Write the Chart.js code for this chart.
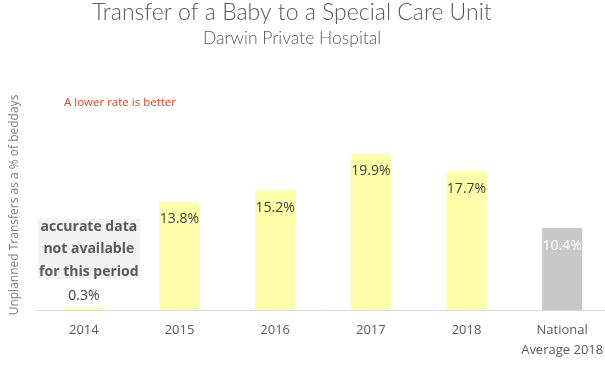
<!DOCTYPE html>
<html>
<head>
<meta charset="utf-8">
<script src="https://cdn.jsdelivr.net/npm/chart.js@4"></script>
<style>
    html, body { margin: 0; padding: 0; background: #fff; overflow: hidden; }
    #wrap { width: 605px; height: 365px; position: relative; overflow: hidden; }
</style>
</head>
<body>
<div id="wrap"><canvas id="chart" width="640" height="372"></canvas></div>
<script>
// chart data
const categories = ['2014', '2015', '2016', '2017', '2018', ['National', 'Average 2018']];
const rates = [0.3, 13.8, 15.2, 19.9, 17.7, 10.4];
const rateLabels = ['0.3%', '13.8%', '15.2%', '19.9%', '17.7%', '10.4%'];
const barColors = ['#ffffaa', '#ffffaa', '#ffffaa', '#ffffaa', '#ffffaa', '#c8c8c8'];
const labelColors = ['#404040', '#404040', '#404040', '#404040', '#404040', '#ffffff'];
const noteLines = ['accurate data', 'not available', 'for this period'];

const titleText = 'Transfer of a Baby to a Special Care Unit';
const subtitleText = 'Darwin Private Hospital';
const yTitle = 'Unplanned Transfers as a % of beddays';
const hintText = 'A lower rate is better';

// titles, hint, y title, value labels and the 2014 note
const extras = {
    id: 'extras',
    afterDatasetsDraw(chart) {
        const ctx = chart.ctx;
        const meta = chart.getDatasetMeta(0);
        ctx.save();
        ctx.textAlign = 'center';
        ctx.textBaseline = 'middle';

        ctx.fillStyle = '#595959';
        ctx.font = '300 23px Lato, "DejaVu Sans", sans-serif';
        ctx.fillText(titleText, 292, 13);
        ctx.font = '300 17.5px Lato, "DejaVu Sans", sans-serif';
        ctx.fillText(subtitleText, 292, 38);

        ctx.fillStyle = '#e2421b';
        ctx.textAlign = 'left';
        ctx.font = '11.5px "Open Sans", sans-serif';
        ctx.fillText(hintText, 64, 103);

        // rotated y title
        ctx.save();
        ctx.translate(15, 205);
        ctx.rotate(-Math.PI / 2);
        ctx.textAlign = 'center';
        ctx.fillStyle = '#7f7f7f';
        ctx.font = '12px "Open Sans", sans-serif';
        ctx.fillText(yTitle, 0, 0);
        ctx.restore();

        // value labels
        ctx.textAlign = 'center';
        ctx.font = '14px "Open Sans", sans-serif';
        meta.data.forEach((bar, i) => {
            ctx.fillStyle = labelColors[i];
            const h = bar.base - bar.y;
            const y = h > 25 ? bar.y + 18 : bar.y - 12;
            ctx.fillText(rateLabels[i], bar.x, y);
        });

        // note box over 2014
        const x0 = meta.data[0].x + 5;
        ctx.fillStyle = '#f2f2f2';
        ctx.fillRect(x0 - 51, 219, 102, 60);
        ctx.fillStyle = '#595959';
        ctx.font = 'bold 14px "Open Sans", sans-serif';
        noteLines.forEach((t, i) => ctx.fillText(t, x0, 227 + i * 22.5));
        ctx.restore();
    }
};

const chart = new Chart(document.getElementById('chart'), {
    type: 'bar',
    data: {
        labels: categories,
        datasets: [{
            data: rates,
            backgroundColor: barColors,
            borderWidth: 0,
            barPercentage: 0.42,
            categoryPercentage: 1
        }]
    },
    options: {
        responsive: false,
        animation: false,
        layout: { padding: { left: 36, top: 113, right: 30, bottom: 1 } },
        plugins: {
            legend: { display: false },
            tooltip: { enabled: false }
        },
        scales: {
            x: {
                grid: { display: false, drawTicks: false },
                border: { display: true, color: '#d9d9d9', width: 1 },
                ticks: {
                    color: '#595959',
                    font: { family: '"Open Sans", sans-serif', size: 13, lineHeight: 1.5 },
                    padding: 11,
                    maxRotation: 0
                }
            },
            y: {
                display: false,
                min: 0,
                max: 25
            }
        }
    },
    plugins: [extras]
});
</script>
</body>
</html>
